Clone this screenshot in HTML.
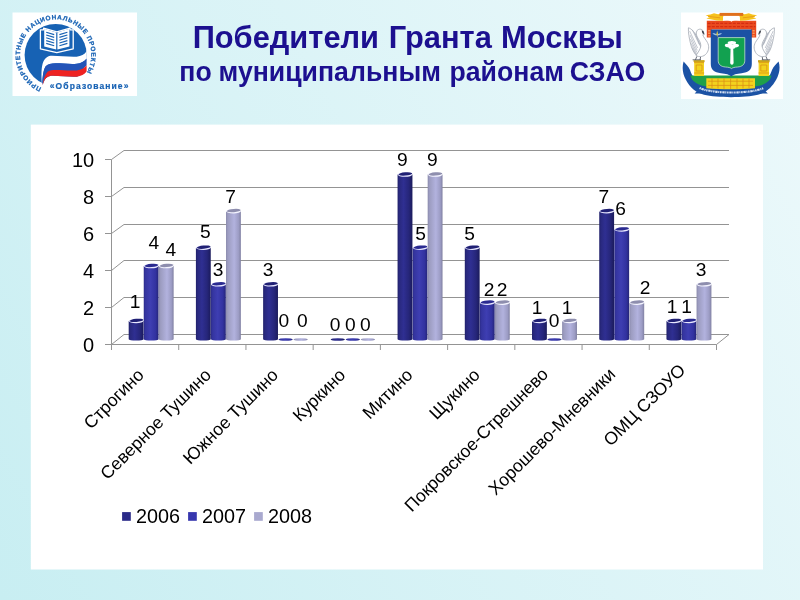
<!DOCTYPE html>
<html lang="ru"><head><meta charset="utf-8"><title>Победители Гранта Москвы</title>
<style>
html,body{margin:0;padding:0;}
body{width:800px;height:600px;overflow:hidden;background:#d6f1f5;font-family:"Liberation Sans",sans-serif;}
svg{display:block;will-change:transform;}
text{font-family:"Liberation Sans",sans-serif;}
</style></head><body>
<svg width="800" height="600" viewBox="0 0 800 600">
<defs>
<linearGradient id="bg" x1="0" y1="1" x2="1.207" y2="0.483">
<stop offset="0" stop-color="#c8eef2"/><stop offset="1" stop-color="#edf9fb"/>
</linearGradient>
<linearGradient id="g0" x1="0" y1="0" x2="1" y2="0">
<stop offset="0" stop-color="#20206a"/><stop offset="0.12" stop-color="#29297f"/><stop offset="0.4" stop-color="#2f2f92"/><stop offset="0.75" stop-color="#26267a"/><stop offset="1" stop-color="#1b1b5c"/>
</linearGradient>
<linearGradient id="g1" x1="0" y1="0" x2="1" y2="0">
<stop offset="0" stop-color="#2c2c8a"/><stop offset="0.12" stop-color="#3535a0"/><stop offset="0.45" stop-color="#3e3eb2"/><stop offset="0.8" stop-color="#3232a0"/><stop offset="1" stop-color="#252578"/>
</linearGradient>
<linearGradient id="g2" x1="0" y1="0" x2="1" y2="0">
<stop offset="0" stop-color="#8a8aac"/><stop offset="0.12" stop-color="#9c9cc0"/><stop offset="0.55" stop-color="#b2b2de"/><stop offset="0.85" stop-color="#9c9cc4"/><stop offset="1" stop-color="#8080a2"/>
</linearGradient>
</defs>
<rect x="0" y="0" width="800" height="600" fill="url(#bg)"/>

<rect x="30.8" y="124.6" width="732.2" height="444.9" fill="#ffffff"/>
<text x="285.85" y="47.7" font-size="31" font-weight="bold" fill="#1c1090" text-anchor="middle" textLength="186.37" lengthAdjust="spacingAndGlyphs">Победители</text>
<text x="440.3" y="47.7" font-size="31" font-weight="bold" fill="#1c1090" text-anchor="middle" textLength="103.09" lengthAdjust="spacingAndGlyphs">Гранта</text>
<text x="562.0" y="47.7" font-size="31" font-weight="bold" fill="#1c1090" text-anchor="middle" textLength="121.89" lengthAdjust="spacingAndGlyphs">Москвы</text>
<text x="195.5" y="80.8" font-size="27.3" font-weight="bold" fill="#1c1090" text-anchor="middle" textLength="32.41" lengthAdjust="spacingAndGlyphs">по</text>
<text x="329.7" y="80.8" font-size="27.3" font-weight="bold" fill="#1c1090" text-anchor="middle" textLength="222.40" lengthAdjust="spacingAndGlyphs">муниципальным</text>
<text x="506.75" y="80.8" font-size="27.3" font-weight="bold" fill="#1c1090" text-anchor="middle" textLength="114.48" lengthAdjust="spacingAndGlyphs">районам</text>
<text x="607.5" y="80.8" font-size="27.3" font-weight="bold" fill="#1c1090" text-anchor="middle" textLength="75.28" lengthAdjust="spacingAndGlyphs">СЗАО</text>
<g id="logo-left">
<rect x="12.5" y="12.5" width="124.5" height="83.5" fill="#ffffff"/>
<defs>
<path id="circtxt" d="M41.50 87.65A35.6 35.6 0 1 1 82.97 77.88"/>
</defs>
<circle cx="55.7" cy="55.1" r="31.1" fill="#1762b4"/>
<path d="M42.9 84.4C44 81 45 79 46.5 77.8C48.5 76.2 50 75.8 53 75.8C60 75.8 70 77.2 76.7 76.7C81 76.3 84.5 74.5 86.6 71.6L92 70V93H43Z" fill="#ffffff"/>
<path d="M86.6 49V73H92V49Z" fill="#ffffff"/>
<path d="M42 84.4C41 74 41.5 66 43.3 61.7C45.5 57.5 48 55.8 52 55.8C60 55.8 70 57.2 76.7 56.7C81 56.2 84.5 54.5 86.6 51.3L86.6 58.5C84.5 61.5 81 63.3 76.7 63.75C70 64.3 62 63.3 55.8 63.3C51 63.3 47.5 64 45.5 66.5C43.5 70 42.5 76 42.3 84.4Z" fill="#ffffff"/>
<path d="M42.3 84.4C42.5 76 43.5 70 45.5 66.5C47.5 64 51 63.3 55.8 63.3C62 63.3 70 64.3 76.7 63.75C81 63.3 84.5 61.5 86.6 58.5L86.6 65.3C84.5 68.5 81 70 76.7 70.4C70 71 62 70 55.8 70C53 70 50 70.2 47.5 71.7C45 74.5 43.5 79 42.6 84.4Z" fill="#2354b8"/>
<path d="M42.6 84.4C43.5 79 45 74.5 47.5 71.7C50 70.2 53 70 55.8 70C62 70 70 71 76.7 70.4C81 70 84.5 68.5 86.6 65.3L86.6 71.6C84.5 74.5 81 76.3 76.7 76.7C70 77.2 60 75.8 53 75.8C50 75.8 48.5 76.2 46.5 77.8C45 79 44 81 42.9 84.4Z" fill="#ee2222"/>
<!-- book -->
<path d="M40.4 29.8H43.6V28.2L56.8 31.8L70 28.2V29.8H73.2V48.8L56.8 52.6L40.4 48.8Z" fill="none" stroke="#ffffff" stroke-width="1.3" stroke-linejoin="round"/>
<path d="M44.2 28.8L56.2 32.4V49.6L44.2 46.4Z" fill="#ffffff"/>
<path d="M69.4 28.8L57.4 32.4V49.6L69.4 46.4Z" fill="#ffffff"/>
<g stroke="#1762b4" stroke-width="1.2" fill="none">
<path d="M46.2 32.2L54.2 34.6M46.2 35L54.2 37.4M46.2 37.8L54.2 40.2M46.2 40.6L54.2 43M46.2 43.4L54.2 45.8"/>
<path d="M67.4 32.2L59.4 34.6M67.4 35L59.4 37.4M67.4 37.8L59.4 40.2M67.4 40.6L59.4 43M67.4 43.4L59.4 45.8"/>
</g>
<text font-size="6.4" font-weight="bold" fill="#1762b4" stroke="#1762b4" stroke-width="0.25" textLength="171" lengthAdjust="spacing"><textPath href="#circtxt">ПРИОРИТЕТНЫЕ НАЦИОНАЛЬНЫЕ ПРОЕКТЫ</textPath></text>
<text x="49.8" y="88.6" font-size="8.5" font-weight="bold" fill="#1762b4" stroke="#1762b4" stroke-width="0.2" textLength="78.6" lengthAdjust="spacing">«Образование»</text>
</g>

<g id="logo-right">
<rect x="681" y="12.5" width="102" height="86.5" fill="#ffffff"/>
<!-- blue ribbon -->
<path d="M683.6 61.5C686 64 688.5 66.5 690 70C692 76 695 80 701 83.5C712 88.5 750 88.5 761 83.5C767 80 770 76 772 70C773.5 66.5 776 64 778.6 61.5C780.5 67 779.5 74 776 80C772 87.6 766 92.6 758 94.8C745 98 717 98 704 94.8C696 92.6 690 87.6 686 80C682.6 74 681.8 67 683.6 61.5Z" fill="#1b52a4"/>
<path d="M699 89L694.6 93.6L702.5 93.6ZM763.4 89L767.8 93.6L759.9 93.6Z" fill="#1b52a4"/>
<!-- green band -->
<path d="M690.5 75.5H771.5C771 79 768 82.5 762 85C750 88.6 712 88.6 700 85C694 82.5 691 79 690.5 75.5Z" fill="#1fa04a"/>
<!-- yellow fence -->
<path d="M706.3 78.2H755V88.2C740 89.6 721 89.6 706.3 88.2Z" fill="#f2d21e"/>
<g stroke="#d98a14" stroke-width="0.7" fill="none"><path d="M708 81.2H753M708 85.4H753M712 78.5V88M718 78.5V88.6M724 78.5V88.9M730.6 78.5V89M737 78.5V88.9M743 78.5V88.6M749 78.5V88"/></g>
<!-- ribbon text hint -->
<path d="M699.6 88C712 94 751 94 763.8 88" fill="none" stroke="#d5e0f2" stroke-width="2.1" stroke-dasharray="1.5 0.7 2.4 0.6 1.1 0.7"/>
<!-- pedestals -->
<rect x="694.2" y="60.4" width="9.8" height="15.6" fill="#f2d21e"/><rect x="693.6" y="60.2" width="11" height="1.8" fill="#c9a41c"/>
<rect x="758.6" y="60.4" width="10.4" height="15.6" fill="#f2d21e"/><rect x="758" y="60.2" width="11.6" height="1.8" fill="#c9a41c"/>
<g stroke="#d98a14" stroke-width="0.7" fill="none"><path d="M694 62.6H704.2M694 73H704.2M696.2 65H702V71H696.2ZM758.4 62.6H769.2M758.4 73H769.2M760.8 65H766.8V71H760.8Z"/></g>
<!-- swans -->
<defs><g id="swan">
<path d="M688.4 27.8C691.6 28.6 694.6 32.4 696.8 37.4C698.6 41.6 700 45.4 701.6 48.6L696.4 55.2C693.6 52.6 691.6 48.4 690.4 43C689.2 38 688.2 33 688.400 27.8Z" fill="#ffffff" stroke="#a2a8b3" stroke-width="0.8" stroke-linejoin="round"/>
<path d="M689.6 31L697.6 48M690 35L697.2 50.4M690.4 39L696.8 52.4M691.2 43.4L696.4 54M692.4 29.8L699.2 44.4M694.6 32.4L700.2 45.4M692.4 47.6L695.6 54.4" stroke="#aab0bb" stroke-width="0.7" fill="none"/>
<path d="M702 44C704 46 705 49 703.600 52.4M704.6 42.6C706.6 45.600 707 49.6 705 53" stroke="#b9bec8" stroke-width="0.6" fill="none"/>
<path d="M696 55.4C699 57.400 703.6 57 706.4 53.6C709 50.4 709.4 46 707.4 42.4C705.6 39.2 703.4 37.2 702.8 34.8L704.2 34.4L703.2 31C702 28.8 698.8 28.6 697.2 30.4C695.6 32.4 696.2 35.4 697.8 38C699.4 40.6 701 43.4 700.8 46C700.4 49.4 698 52.4 696 55.4Z" fill="#ffffff" stroke="#a2a8b3" stroke-width="0.8" stroke-linejoin="round"/>
<path d="M701.600 30.2L703.6 31.4L704.4 34.4L702.4 33.2Z" fill="#3c3f48"/>
<path d="M696.8 56.4L695.4 60M700.6 57L700 60M692.6 59.8H701" stroke="#5a5f6a" stroke-width="0.9" fill="none"/>
</g></defs>
<use href="#swan"/>
<use href="#swan" transform="translate(1462.8 0) scale(-1 1)"/>
<!-- red wall -->
<path d="M706.8 20.8H756.2V37.4H751V29.4H711.6V37.4H706.8Z" fill="#ea4a1e"/>
<path d="M707.6 23.4H755.4M707.6 26.6H755.4" stroke="#d42c12" stroke-width="1.1" stroke-dasharray="3 1.2" fill="none"/>
<path d="M709.2 30V37.4M753.6 30V37.4" stroke="#f59a5c" stroke-width="2.2" stroke-dasharray="1.4 1.2" fill="none"/>
<!-- yellow top -->
<path d="M705.600 15.2L710.4 14.6L714 13.2L718 14.2L722.4 13.6L723.6 16.600L722.8 20.8L717 20.4L711.6 19.600L706.4 18.4L710 17Z" fill="#f6c21c"/>
<path d="M757.2 15.2L752.4 14.600L748.8 13.2L744.8 14.2L740.4 13.6L739.2 16.6L740 20.800L745.8 20.4L751.2 19.6L756.4 18.400L752.8 17Z" fill="#f6c21c"/>
<path d="M708 16.4L720 17.8M754.8 16.4L742.8 17.8" stroke="#e89a14" stroke-width="0.9" fill="none"/>
<rect x="719.6" y="12.9" width="23.6" height="3" fill="#e0701c"/>
<path d="M723 20.800C726 19.6 729.4 20 731.4 21.8C733.4 20 736.800 19.6 739.8 20.8V16.6C736.8 15.8 733.4 16.2 731.4 17.6C729.4 16.2 726 15.800 723 16.6Z" fill="#ffffff"/>
<!-- shield -->
<path d="M710.8 29.6H751.8V64C751.8 69.600 748.4 72.600 741.6 73.2C736.600 73.600 733.2 74.6 731.3 76.4C729.4 74.600 726 73.6 721 73.200C714.2 72.600 710.8 69.6 710.8 64Z" fill="#1b52a4"/>
<path d="M718.2 37.6H744.8V60.4C744.800 64.6 742 66.6 737.6 67C734.6 67.2 732.6 67.6 731.5 68.600C730.4 67.600 728.4 67.200 725.4 67C721 66.600 718.2 64.600 718.2 60.4Z" fill="#12a150" stroke="#d8ecd8" stroke-width="0.7"/>
<!-- tree -->
<path d="M730.6 47.4H733.2L733.6 62.6C733.6 64 732.8 64.8 731.9 64.800C731 64.8 730.2 64 730.2 62.6Z" fill="#ffffff"/>
<ellipse cx="731.9" cy="42.8" rx="4.2" ry="1.7" fill="#ffffff"/>
<ellipse cx="728.6" cy="45.4" rx="3.800" ry="1.8" fill="#ffffff"/>
<ellipse cx="735.4" cy="45.600" rx="3.6" ry="1.8" fill="#ffffff"/>
<ellipse cx="731.9" cy="47.4" rx="3.4" ry="1.4" fill="#ffffff"/>
<!-- small gold emblem -->
<path d="M712.4 33.2C714.4 33 716 33.6 717.2 34.6C718.4 33.600 720 33 722 33.200C720.6 34.8 718.8 35.4 717.2 35.2C715.6 35.400 713.8 34.8 712.4 33.200Z" fill="#9fc4e8"/>
<path d="M717.2 30.6L717.9 33.4L717.2 37.6L716.5 33.4Z" fill="#f0d23c"/>
</g>

<g stroke="#949494" stroke-width="1" fill="none">
<path d="M105.00 344.50H111.50L124.00 334.50H729.00"/>
<path d="M105.00 307.50H111.50L124.00 297.50H729.00"/>
<path d="M105.00 270.50H111.50L124.00 260.50H729.00"/>
<path d="M105.00 233.50H111.50L124.00 224.50H729.00"/>
<path d="M105.00 196.50H111.50L124.00 187.50H729.00"/>
<path d="M105.00 159.50H111.50L124.00 150.50H729.00"/>
<path d="M111.50 159.50V344.50"/>
<path d="M111.50 344.50H716.50L729.00 334.50"/>
<path d="M111.50 344.50V350.00"/>
<path d="M178.72 344.50V350.00"/>
<path d="M245.94 344.50V350.00"/>
<path d="M313.17 344.50V350.00"/>
<path d="M380.39 344.50V350.00"/>
<path d="M447.61 344.50V350.00"/>
<path d="M514.83 344.50V350.00"/>
<path d="M582.06 344.50V350.00"/>
<path d="M649.28 344.50V350.00"/>
<path d="M716.50 344.50V350.00"/>
</g>
<text x="94.2" y="351.50" font-size="20" text-anchor="end" fill="#000">0</text>
<text x="94.2" y="314.50" font-size="20" text-anchor="end" fill="#000">2</text>
<text x="94.2" y="277.50" font-size="20" text-anchor="end" fill="#000">4</text>
<text x="94.2" y="240.50" font-size="20" text-anchor="end" fill="#000">6</text>
<text x="94.2" y="203.50" font-size="20" text-anchor="end" fill="#000">8</text>
<text x="94.2" y="166.50" font-size="20" text-anchor="end" fill="#000">10</text>
<path d="M128.69 321.00V339.30A7.42 1.3 0 0 0 143.54 339.30V321.00Z" fill="url(#g0)"/>
<ellipse cx="136.11" cy="321.00" rx="7.42" ry="2.1999999999999997" fill="#e8e8ff"/>
<ellipse cx="136.51" cy="320.40" rx="6.92" ry="1.5999999999999999" fill="#202074" transform="rotate(-5 136.11 321.00)"/>
<path d="M143.74 266.10V339.30A7.42 1.3 0 0 0 158.59 339.30V266.10Z" fill="url(#g1)"/>
<ellipse cx="151.16" cy="266.10" rx="7.42" ry="2.1999999999999997" fill="#e8e8ff"/>
<ellipse cx="151.56" cy="265.50" rx="6.92" ry="1.5999999999999999" fill="#2a2a90" transform="rotate(-5 151.16 266.10)"/>
<path d="M158.79 266.10V339.30A7.42 1.3 0 0 0 173.64 339.30V266.10Z" fill="url(#g2)"/>
<ellipse cx="166.21" cy="266.10" rx="7.42" ry="2.1999999999999997" fill="#f4f4ff"/>
<ellipse cx="166.61" cy="265.50" rx="6.92" ry="1.5999999999999999" fill="#8e8eae" transform="rotate(-5 166.21 266.10)"/>
<path d="M195.91 247.80V339.30A7.42 1.3 0 0 0 210.76 339.30V247.80Z" fill="url(#g0)"/>
<ellipse cx="203.33" cy="247.80" rx="7.42" ry="2.1999999999999997" fill="#e8e8ff"/>
<ellipse cx="203.73" cy="247.20" rx="6.92" ry="1.5999999999999999" fill="#202074" transform="rotate(-5 203.33 247.80)"/>
<path d="M210.96 284.40V339.30A7.42 1.3 0 0 0 225.81 339.30V284.40Z" fill="url(#g1)"/>
<ellipse cx="218.38" cy="284.40" rx="7.42" ry="2.1999999999999997" fill="#e8e8ff"/>
<ellipse cx="218.78" cy="283.80" rx="6.92" ry="1.5999999999999999" fill="#2a2a90" transform="rotate(-5 218.38 284.40)"/>
<path d="M226.01 211.20V339.30A7.42 1.3 0 0 0 240.86 339.30V211.20Z" fill="url(#g2)"/>
<ellipse cx="233.43" cy="211.20" rx="7.42" ry="2.1999999999999997" fill="#f4f4ff"/>
<ellipse cx="233.83" cy="210.60" rx="6.92" ry="1.5999999999999999" fill="#8e8eae" transform="rotate(-5 233.43 211.20)"/>
<path d="M263.13 284.40V339.30A7.42 1.3 0 0 0 277.98 339.30V284.40Z" fill="url(#g0)"/>
<ellipse cx="270.56" cy="284.40" rx="7.42" ry="2.1999999999999997" fill="#e8e8ff"/>
<ellipse cx="270.96" cy="283.80" rx="6.92" ry="1.5999999999999999" fill="#202074" transform="rotate(-5 270.56 284.40)"/>
<ellipse cx="285.61" cy="339.50" rx="7.12" ry="1.3" fill="url(#g1)"/>
<ellipse cx="300.66" cy="339.50" rx="7.12" ry="1.3" fill="url(#g2)"/>
<ellipse cx="337.78" cy="339.50" rx="7.12" ry="1.3" fill="url(#g0)"/>
<ellipse cx="352.83" cy="339.50" rx="7.12" ry="1.3" fill="url(#g1)"/>
<ellipse cx="367.88" cy="339.50" rx="7.12" ry="1.3" fill="url(#g2)"/>
<path d="M397.57 174.60V339.30A7.42 1.3 0 0 0 412.43 339.30V174.60Z" fill="url(#g0)"/>
<ellipse cx="405.00" cy="174.60" rx="7.42" ry="2.1999999999999997" fill="#e8e8ff"/>
<ellipse cx="405.40" cy="174.00" rx="6.92" ry="1.5999999999999999" fill="#202074" transform="rotate(-5 405.00 174.60)"/>
<path d="M412.62 247.80V339.30A7.42 1.3 0 0 0 427.48 339.30V247.80Z" fill="url(#g1)"/>
<ellipse cx="420.05" cy="247.80" rx="7.42" ry="2.1999999999999997" fill="#e8e8ff"/>
<ellipse cx="420.45" cy="247.20" rx="6.92" ry="1.5999999999999999" fill="#2a2a90" transform="rotate(-5 420.05 247.80)"/>
<path d="M427.68 174.60V339.30A7.42 1.3 0 0 0 442.53 339.30V174.60Z" fill="url(#g2)"/>
<ellipse cx="435.10" cy="174.60" rx="7.42" ry="2.1999999999999997" fill="#f4f4ff"/>
<ellipse cx="435.50" cy="174.00" rx="6.92" ry="1.5999999999999999" fill="#8e8eae" transform="rotate(-5 435.10 174.60)"/>
<path d="M464.80 247.80V339.30A7.42 1.3 0 0 0 479.65 339.30V247.80Z" fill="url(#g0)"/>
<ellipse cx="472.22" cy="247.80" rx="7.42" ry="2.1999999999999997" fill="#e8e8ff"/>
<ellipse cx="472.62" cy="247.20" rx="6.92" ry="1.5999999999999999" fill="#202074" transform="rotate(-5 472.22 247.80)"/>
<path d="M479.85 302.70V339.30A7.42 1.3 0 0 0 494.70 339.30V302.70Z" fill="url(#g1)"/>
<ellipse cx="487.27" cy="302.70" rx="7.42" ry="2.1999999999999997" fill="#e8e8ff"/>
<ellipse cx="487.67" cy="302.10" rx="6.92" ry="1.5999999999999999" fill="#2a2a90" transform="rotate(-5 487.27 302.70)"/>
<path d="M494.90 302.70V339.30A7.42 1.3 0 0 0 509.75 339.30V302.70Z" fill="url(#g2)"/>
<ellipse cx="502.32" cy="302.70" rx="7.42" ry="2.1999999999999997" fill="#f4f4ff"/>
<ellipse cx="502.72" cy="302.10" rx="6.92" ry="1.5999999999999999" fill="#8e8eae" transform="rotate(-5 502.32 302.70)"/>
<path d="M532.02 321.00V339.30A7.42 1.3 0 0 0 546.87 339.30V321.00Z" fill="url(#g0)"/>
<ellipse cx="539.44" cy="321.00" rx="7.42" ry="2.1999999999999997" fill="#e8e8ff"/>
<ellipse cx="539.84" cy="320.40" rx="6.92" ry="1.5999999999999999" fill="#202074" transform="rotate(-5 539.44 321.00)"/>
<ellipse cx="554.49" cy="339.50" rx="7.12" ry="1.3" fill="url(#g1)"/>
<path d="M562.12 321.00V339.30A7.42 1.3 0 0 0 576.97 339.30V321.00Z" fill="url(#g2)"/>
<ellipse cx="569.54" cy="321.00" rx="7.42" ry="2.1999999999999997" fill="#f4f4ff"/>
<ellipse cx="569.94" cy="320.40" rx="6.92" ry="1.5999999999999999" fill="#8e8eae" transform="rotate(-5 569.54 321.00)"/>
<path d="M599.24 211.20V339.30A7.42 1.3 0 0 0 614.09 339.30V211.20Z" fill="url(#g0)"/>
<ellipse cx="606.67" cy="211.20" rx="7.42" ry="2.1999999999999997" fill="#e8e8ff"/>
<ellipse cx="607.07" cy="210.60" rx="6.92" ry="1.5999999999999999" fill="#202074" transform="rotate(-5 606.67 211.20)"/>
<path d="M614.29 229.50V339.30A7.42 1.3 0 0 0 629.14 339.30V229.50Z" fill="url(#g1)"/>
<ellipse cx="621.72" cy="229.50" rx="7.42" ry="2.1999999999999997" fill="#e8e8ff"/>
<ellipse cx="622.12" cy="228.90" rx="6.92" ry="1.5999999999999999" fill="#2a2a90" transform="rotate(-5 621.72 229.50)"/>
<path d="M629.34 302.70V339.30A7.42 1.3 0 0 0 644.19 339.30V302.70Z" fill="url(#g2)"/>
<ellipse cx="636.77" cy="302.70" rx="7.42" ry="2.1999999999999997" fill="#f4f4ff"/>
<ellipse cx="637.17" cy="302.10" rx="6.92" ry="1.5999999999999999" fill="#8e8eae" transform="rotate(-5 636.77 302.70)"/>
<path d="M666.46 321.00V339.30A7.42 1.3 0 0 0 681.31 339.30V321.00Z" fill="url(#g0)"/>
<ellipse cx="673.89" cy="321.00" rx="7.42" ry="2.1999999999999997" fill="#e8e8ff"/>
<ellipse cx="674.29" cy="320.40" rx="6.92" ry="1.5999999999999999" fill="#202074" transform="rotate(-5 673.89 321.00)"/>
<path d="M681.51 321.00V339.30A7.42 1.3 0 0 0 696.36 339.30V321.00Z" fill="url(#g1)"/>
<ellipse cx="688.94" cy="321.00" rx="7.42" ry="2.1999999999999997" fill="#e8e8ff"/>
<ellipse cx="689.34" cy="320.40" rx="6.92" ry="1.5999999999999999" fill="#2a2a90" transform="rotate(-5 688.94 321.00)"/>
<path d="M696.56 284.40V339.30A7.42 1.3 0 0 0 711.41 339.30V284.40Z" fill="url(#g2)"/>
<ellipse cx="703.99" cy="284.40" rx="7.42" ry="2.1999999999999997" fill="#f4f4ff"/>
<ellipse cx="704.39" cy="283.80" rx="6.92" ry="1.5999999999999999" fill="#8e8eae" transform="rotate(-5 703.99 284.40)"/>
<text x="135" y="307.70" font-size="19.2" text-anchor="middle" fill="#000">1</text>
<text x="153.8" y="248.70" font-size="19.2" text-anchor="middle" fill="#000">4</text>
<text x="170.8" y="256.40" font-size="19.2" text-anchor="middle" fill="#000">4</text>
<text x="205.3" y="237.70" font-size="19.2" text-anchor="middle" fill="#000">5</text>
<text x="218" y="276.40" font-size="19.2" text-anchor="middle" fill="#000">3</text>
<text x="230.5" y="203.10" font-size="19.2" text-anchor="middle" fill="#000">7</text>
<text x="268" y="276.40" font-size="19.2" text-anchor="middle" fill="#000">3</text>
<text x="283.85" y="327.40" font-size="19.2" text-anchor="middle" fill="#000">0</text>
<text x="302.3" y="327.40" font-size="19.2" text-anchor="middle" fill="#000">0</text>
<text x="335.15" y="331.40" font-size="19.2" text-anchor="middle" fill="#000">0</text>
<text x="350.3" y="331.40" font-size="19.2" text-anchor="middle" fill="#000">0</text>
<text x="365.3" y="331.40" font-size="19.2" text-anchor="middle" fill="#000">0</text>
<text x="402.3" y="165.60" font-size="19.2" text-anchor="middle" fill="#000">9</text>
<text x="420.5" y="239.70" font-size="19.2" text-anchor="middle" fill="#000">5</text>
<text x="432.3" y="165.60" font-size="19.2" text-anchor="middle" fill="#000">9</text>
<text x="469.7" y="239.70" font-size="19.2" text-anchor="middle" fill="#000">5</text>
<text x="489" y="296.10" font-size="19.2" text-anchor="middle" fill="#000">2</text>
<text x="502" y="296.10" font-size="19.2" text-anchor="middle" fill="#000">2</text>
<text x="537" y="313.70" font-size="19.2" text-anchor="middle" fill="#000">1</text>
<text x="554" y="327.10" font-size="19.2" text-anchor="middle" fill="#000">0</text>
<text x="567" y="313.70" font-size="19.2" text-anchor="middle" fill="#000">1</text>
<text x="603.8" y="202.70" font-size="19.2" text-anchor="middle" fill="#000">7</text>
<text x="620.7" y="214.70" font-size="19.2" text-anchor="middle" fill="#000">6</text>
<text x="645" y="293.70" font-size="19.2" text-anchor="middle" fill="#000">2</text>
<text x="672" y="312.90" font-size="19.2" text-anchor="middle" fill="#000">1</text>
<text x="686.5" y="312.90" font-size="19.2" text-anchor="middle" fill="#000">1</text>
<text x="701" y="276.15" font-size="19.2" text-anchor="middle" fill="#000">3</text>
<text transform="translate(140.61 371.80) rotate(-45)" x="0" y="6" font-size="17.65" text-anchor="end" fill="#000">Строгино</text>
<text transform="translate(207.83 371.80) rotate(-45)" x="0" y="6" font-size="17.65" text-anchor="end" fill="#000">Северное Тушино</text>
<text transform="translate(275.06 371.80) rotate(-45)" x="0" y="6" font-size="17.65" text-anchor="end" fill="#000">Южное Тушино</text>
<text transform="translate(342.28 371.80) rotate(-45)" x="0" y="6" font-size="17.65" text-anchor="end" fill="#000">Куркино</text>
<text transform="translate(409.50 371.80) rotate(-45)" x="0" y="6" font-size="17.65" text-anchor="end" fill="#000">Митино</text>
<text transform="translate(476.72 371.80) rotate(-45)" x="0" y="6" font-size="17.65" text-anchor="end" fill="#000">Щукино</text>
<text transform="translate(544.94 371.00) rotate(-45)" x="0" y="6" font-size="17.65" text-anchor="end" fill="#000">Покровское-Стрешнево</text>
<text transform="translate(612.17 371.00) rotate(-45)" x="0" y="6" font-size="17.65" text-anchor="end" fill="#000">Хорошево-Мневники</text>
<text transform="translate(682.19 367.00) rotate(-45)" x="0" y="6" font-size="17.65" text-anchor="end" fill="#000">ОМЦ СЗОУО</text>
<rect x="122.1" y="512.1" width="8.7" height="8.7" fill="#2a2a88"/>
<text x="136.1" y="523.4" font-size="19.8" fill="#000">2006</text>
<rect x="188.1" y="512.1" width="8.7" height="8.7" fill="#3737ae"/>
<text x="202.1" y="523.4" font-size="19.8" fill="#000">2007</text>
<rect x="254.1" y="512.1" width="8.7" height="8.7" fill="#a9a9cf"/>
<text x="268.1" y="523.4" font-size="19.8" fill="#000">2008</text>
</svg></body></html>
